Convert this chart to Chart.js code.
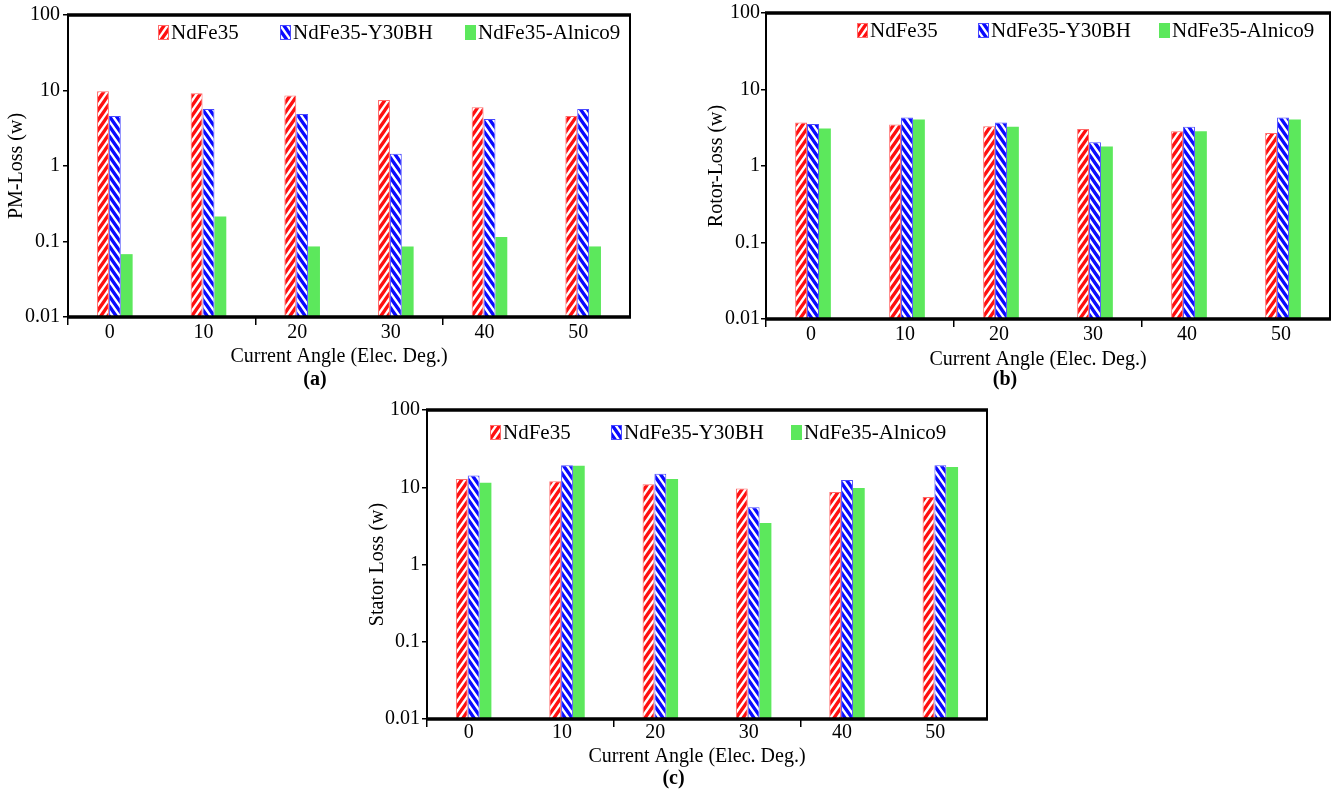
<!DOCTYPE html>
<html>
<head>
<meta charset="utf-8">
<script src="https://cdn.jsdelivr.net/npm/chart.js@4.4.1/dist/chart.umd.min.js"></script>
<style>
    body { margin: 0; background: #fff; width: 1333px; height: 791px; overflow: hidden; position: relative; }
    canvas { position: absolute; }
</style>
</head>
<body>
<canvas id="chartPM" width="640" height="392" style="left:0px;top:0px"></canvas>
<canvas id="chartRotor" width="653" height="392" style="left:680px;top:0px"></canvas>
<canvas id="chartStator" width="640" height="396" style="left:360px;top:395px"></canvas>
<script>
// categories and series
const angles = ["0", "10", "20", "30", "40", "50"];
const seriesNames = ["NdFe35", "NdFe35-Y30BH", "NdFe35-Alnico9"];
const yTicks = [0.01, 0.1, 1, 10, 100];

const pmNdFe35 = [9.8, 9.2, 8.6, 7.5, 6.0, 4.6];
const pmY30BH = [4.6, 5.7, 4.9, 1.45, 4.2, 5.7];
const pmAlnico9 = [0.068, 0.215, 0.086, 0.086, 0.115, 0.086];

const rotorNdFe35 = [3.7, 3.5, 3.3, 3.05, 2.85, 2.7];
const rotorY30BH = [3.55, 4.3, 3.7, 2.05, 3.25, 4.3];
const rotorAlnico9 = [3.1, 4.05, 3.25, 1.8, 2.85, 4.05];

const statorNdFe35 = [12.8, 12.0, 10.9, 9.6, 8.7, 7.5];
const statorY30BH = [14.2, 19.3, 14.9, 5.5, 12.4, 19.3];
const statorAlnico9 = [11.4, 19.0, 12.8, 3.45, 9.8, 18.3];

Chart.defaults.font.family = "'Liberation Serif', 'Times New Roman', serif";
Chart.defaults.color = "#000";

// hatch fills: "/" for red, "\" for blue (steep, thick stripes)
function hatch(color, dir) {
    const w = 7, h = 10;
    const c = document.createElement("canvas");
    c.width = w; c.height = h;
    const g = c.getContext("2d");
    g.fillStyle = "#fff";
    g.fillRect(0, 0, w, h);
    g.strokeStyle = color;
    g.lineWidth = 3.3;
    g.beginPath();
    for (let k = -1; k <= 1; k++) {
        const o = k * w;
        if (dir > 0) {
            g.moveTo(o - 1.4, h + 2); g.lineTo(o + w + 1.4, -2);
        } else {
            g.moveTo(o - 1.4, -2); g.lineTo(o + w + 1.4, h + 2);
        }
    }
    g.stroke();
    return g.createPattern(c, "repeat");
}

const fills = [hatch("#ff1010", 1), hatch("#0a0aff", -1), "#5ce85c"];
const edges = ["#ff6a6a", "#4a4aff", "#5ce85c"];

// box frame: thick top/bottom, thinner sides
const framePlugin = {
    id: "frame",
    afterDatasetsDraw(chart) {
        const { ctx, chartArea: a } = chart;
        ctx.save();
        ctx.strokeStyle = "#000";
        ctx.lineWidth = 2;
        ctx.beginPath();
        ctx.moveTo(a.left, a.top); ctx.lineTo(a.left, a.bottom);
        ctx.moveTo(a.right, a.top); ctx.lineTo(a.right, a.bottom);
        ctx.stroke();
        ctx.lineWidth = 3.5;
        ctx.beginPath();
        ctx.moveTo(a.left - 1, a.top); ctx.lineTo(a.right + 1, a.top);
        ctx.moveTo(a.left - 1, a.bottom); ctx.lineTo(a.right + 1, a.bottom);
        ctx.stroke();
        ctx.restore();
    }
};

// legend drawn inside the plot, one row
const legendPlugin = {
    id: "boxLegend",
    afterDraw(chart, args, opts) {
        const ctx = chart.ctx;
        chart.data.datasets.forEach((ds, i) => {
            const x = opts.x[i], y = opts.y;
            ctx.save();
            ctx.fillStyle = ds.backgroundColor;
            ctx.fillRect(x, y, 11, 15);
            if (ds.borderWidth) {
                ctx.strokeStyle = ds.borderColor;
                ctx.lineWidth = 1;
                ctx.strokeRect(x + 0.5, y + 0.5, 10, 14);
            }
            ctx.fillStyle = "#000";
            ctx.font = "21px 'Liberation Serif'";
            ctx.textBaseline = "middle";
            ctx.fillText(ds.label, x + 13, y + 8);
            ctx.restore();
        });
    }
};

function makeChart(id, values, yTitle, tag, L) {
    return new Chart(document.getElementById(id), {
        type: "bar",
        data: {
            labels: angles,
            datasets: seriesNames.map((name, i) => ({
                label: name,
                data: values[i],
                backgroundColor: fills[i],
                borderColor: edges[i],
                borderWidth: i < 2 ? 1 : 0,
                categoryPercentage: 0.38,
                barPercentage: 1.0,
            })),
        },
        options: {
            responsive: false,
            animation: false,
            devicePixelRatio: 1,
            layout: { padding: { left: 0, top: L.top, right: L.right, bottom: 0 } },
            scales: {
                x: {
                    grid: {
                        offset: true,
                        drawOnChartArea: false,
                        tickLength: 8,
                        lineWidth: 1.5,
                        color: (c) => (c.index % 2 === 0 ? "#000" : "rgba(0,0,0,0)"),
                    },
                    border: { display: false },
                    ticks: { padding: L.xPad, labelOffset: L.labelOffset, font: { size: 20 } },
                    title: {
                        display: true,
                        // trailing spaces nudge the centred title left, as in the source figure
                        text: "Current Angle (Elec. Deg.)    ",
                        font: { size: 20 },
                        padding: { top: 0, bottom: L.xTitlePad },
                    },
                    afterFit: (s) => { s.height = L.xHeight; },
                },
                y: {
                    type: "logarithmic",
                    min: 0.01,
                    max: 100,
                    afterBuildTicks: (s) => { s.ticks = yTicks.map((v) => ({ value: v })); },
                    grid: { drawOnChartArea: false, tickLength: 5, color: "#000", lineWidth: 1.5 },
                    border: { display: false },
                    ticks: { padding: L.yPad, font: { size: 20 }, callback: (v) => String(v) },
                    title: {
                        display: true,
                        text: yTitle,
                        font: { size: 20 },
                        padding: { top: L.yTitlePad, bottom: 0 },
                    },
                    afterFit: (s) => { s.width = L.yWidth; },
                },
            },
            plugins: {
                legend: { display: false },
                tooltip: { enabled: false },
                title: {
                    display: true,
                    position: "bottom",
                    text: tag,
                    font: { size: 20, weight: "bold" },
                    padding: { top: 0, bottom: 0 },
                },
                boxLegend: { x: L.legendX, y: L.legendY },
            },
        },
        plugins: [framePlugin, legendPlugin],
    });
}

makeChart("chartPM", [pmNdFe35, pmY30BH, pmAlnico9], "PM-Loss (w)", "(a)", {
    top: 14, right: 10, yWidth: 68, yPad: 3, yTitlePad: 4.5,
    xHeight: 51, xPad: -4, xTitlePad: -1, labelOffset: -5,
    legendX: [158, 280, 465], legendY: 25,
});

makeChart("chartRotor", [rotorNdFe35, rotorY30BH, rotorAlnico9], "Rotor-Loss (w)", "(b)", {
    top: 12, right: 3, yWidth: 86, yPad: 1, yTitlePad: 25,
    xHeight: 49, xPad: -4, xTitlePad: -4, labelOffset: -2,
    legendX: [177, 298, 479], legendY: 23,
});

makeChart("chartStator", [statorNdFe35, statorY30BH, statorAlnico9], "Stator Loss (w)", "(c)", {
    top: 15, right: 13, yWidth: 67, yPad: 2, yTitlePad: 6,
    xHeight: 48, xPad: -6, xTitlePad: -2, labelOffset: -5,
    legendX: [130, 251, 431], legendY: 30,
});
</script>
</body>
</html>
